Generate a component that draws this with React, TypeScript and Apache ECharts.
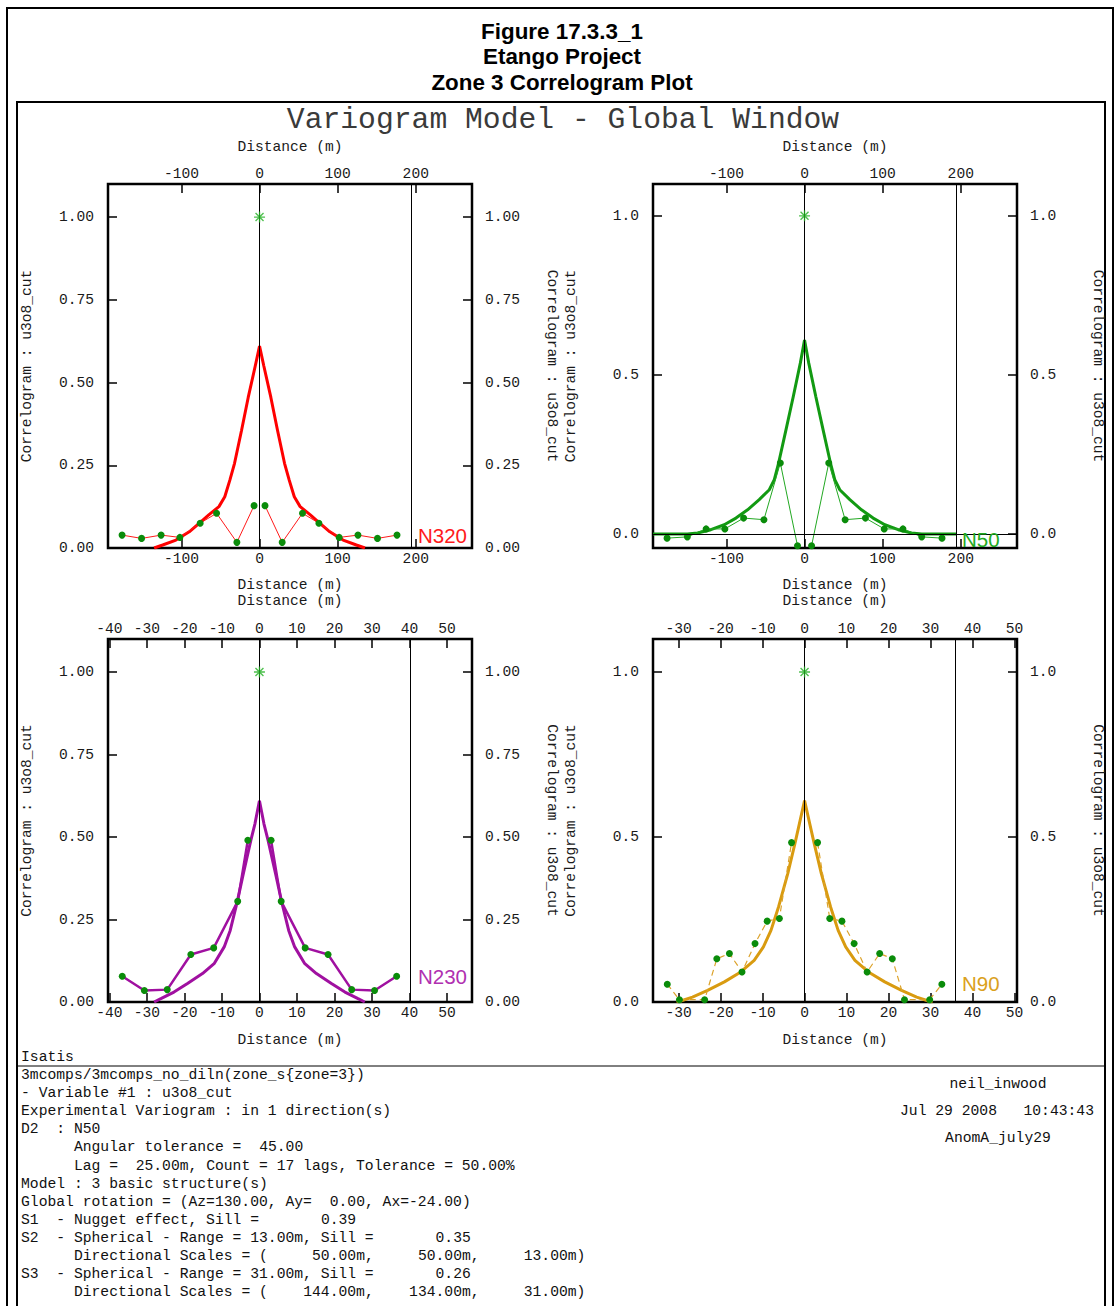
import React, { useEffect, useRef } from "react";
import * as echarts from "echarts";

// ---------------- DATA ----------------
// Experimental correlogram: lag distance (m) on the positive side; the plot is symmetric about 0
const n320ExpLag = [7, 29, 55, 76, 102, 126, 151, 176];
const n320ExpVal = [0.128, 0.017, 0.105, 0.075, 0.032, 0.039, 0.029, 0.039];
const n320ModelDist = [0, 5.5, 14.5, 23, 32, 38, 44.5, 52, 65, 77, 90, 107, 124, 135];
const n320ModelVal = [0.61, 0.55, 0.455, 0.356, 0.256, 0.205, 0.155, 0.125, 0.1, 0.075, 0.049, 0.024, 0.009, 0];

const n50ExpLag = [9, 31, 52, 78, 102, 126, 150, 176];
const n50ExpVal = [-0.037, 0.223, 0.045, 0.05, 0.016, 0.016, -0.009, -0.013];
const n50ModelDist = [0, 5.4, 14.4, 23.7, 33.2, 38.7, 45.1, 58, 72.9, 87.8, 102.8, 119.9, 137, 150, 194];
const n50ModelVal = [0.61, 0.537, 0.432, 0.328, 0.223, 0.171, 0.139, 0.108, 0.076, 0.05, 0.029, 0.0135, 0.003, 0, 0];

const n230ExpLag = [3.1, 5.8, 12.2, 18.3, 24.6, 30.7, 36.6];
const n230ExpVal = [0.49, 0.305, 0.164, 0.144, 0.0375, 0.035, 0.078];
const n230ModelDist = [0, 1.2, 2.3, 4.3, 5.9, 7.8, 9.4, 12.1, 15.2, 19.2, 22.8, 26.3, 28.1];
const n230ModelVal = [0.61, 0.54, 0.49, 0.389, 0.305, 0.217, 0.167, 0.116, 0.086, 0.056, 0.03, 0.01, 0];

const n90ExpLag = [3.1, 6, 8.9, 11.8, 14.9, 17.9, 20.9, 23.8, 29.8, 32.7];
const n90ExpVal = [0.483, 0.253, 0.245, 0.177, 0.091, 0.147, 0.131, 0.007, 0.007, 0.054];
const n90ModelDist = [0, 1.24, 2.3, 4, 6.2, 8, 9.8, 12, 15.2, 19.1, 23.1, 26.7, 29.5, 30.5];
const n90ModelVal = [0.61, 0.54, 0.48, 0.389, 0.288, 0.217, 0.167, 0.126, 0.091, 0.061, 0.035, 0.015, 0.003, 0];

const starPoint = [0, 1.0];

const directionNames = ["N320", "N50", "N230", "N90"];

// tick labels
const xTicksWide = [-100, 0, 100, 200];
const xTicksN230 = [-40, -30, -20, -10, 0, 10, 20, 30, 40, 50];
const xTicksN90 = [-30, -20, -10, 0, 10, 20, 30, 40, 50];
const yTicksFine = [0, 0.25, 0.5, 0.75, 1];
const yTicksCoarse = [0, 0.5, 1];

const figureTitle = ["Figure 17.3.3_1", "Etango Project", "Zone 3 Correlogram Plot"];
const plotTitle = "Variogram Model - Global Window";
const xName = "Distance (m)";
const yName = "Correlogram : u3o8_cut";

const infoLines = [
  "3mcomps/3mcomps_no_diln(zone_s{zone=3})",
  "- Variable #1 : u3o8_cut",
  "Experimental Variogram : in 1 direction(s)",
  "D2  : N50",
  "      Angular tolerance =  45.00",
  "      Lag =  25.00m, Count = 17 lags, Tolerance = 50.00%",
  "Model : 3 basic structure(s)",
  "Global rotation = (Az=130.00, Ay=  0.00, Ax=-24.00)",
  "S1  - Nugget effect, Sill =       0.39",
  "S2  - Spherical - Range = 13.00m, Sill =       0.35",
  "      Directional Scales = (     50.00m,     50.00m,     13.00m)",
  "S3  - Spherical - Range = 31.00m, Sill =       0.26",
  "      Directional Scales = (    144.00m,    134.00m,     31.00m)",
];
const stampLines = ["neil_inwood", "Jul 29 2008   10:43:43", "AnomA_july29"];

// ---------------- LAYOUT / STYLE ----------------
const MONO = '"Liberation Mono", "Courier New", monospace';
const SANS = '"Liberation Sans", Arial, sans-serif';
const MONO_SIZE = 14.6;

const panels = [
  {
    exp: [n320ExpLag, n320ExpVal], model: [n320ModelDist, n320ModelVal],
    left: 108, top: 184, width: 364, height: 364,
    xMin: -194, xMax: 272, vline: 194, yMin: 0, yMax: 1.1, hline: false, yDec: 2,
    xTicks: xTicksWide, yTicks: yTicksFine,
    gaps: { top: 30, bottom: 29, left: 74, right: 72 },
    modelColor: "#FF0000", expColor: "#FF1A1A", expWidth: 1, expType: "solid" as any,
    tagColor: "#FF1A1A", tag: [418, 535],
  },
  {
    exp: [n50ExpLag, n50ExpVal], model: [n50ModelDist, n50ModelVal],
    left: 653, top: 184, width: 364, height: 364,
    xMin: -194, xMax: 272, vline: 194, yMin: -0.044, yMax: 1.1, hline: true, yDec: 1,
    xTicks: xTicksWide, yTicks: yTicksCoarse,
    gaps: { top: 30, bottom: 29, left: 75, right: 73 },
    modelColor: "#129A12", expColor: "#22A822", expWidth: 1, expType: "solid" as any,
    tagColor: "#22AA22", tag: [962, 539],
  },
  {
    exp: [n230ExpLag, n230ExpVal], model: [n230ModelDist, n230ModelVal],
    left: 108, top: 639, width: 364, height: 363,
    xMin: -40.4, xMax: 56.7, vline: 40.3, yMin: 0, yMax: 1.1, hline: false, yDec: 2,
    xTicks: xTicksN230, yTicks: yTicksFine,
    gaps: { top: 31, bottom: 30, left: 74, right: 72 },
    modelColor: "#A010A0", expColor: "#A010A0", expWidth: 2.5, expType: "solid" as any,
    tagColor: "#B030B0", tag: [418, 976],
  },
  {
    exp: [n90ExpLag, n90ExpVal], model: [n90ModelDist, n90ModelVal],
    left: 653, top: 639, width: 364, height: 363,
    xMin: -36.1, xMax: 50.6, vline: 36, yMin: 0, yMax: 1.1, hline: false, yDec: 1,
    xTicks: xTicksN90, yTicks: yTicksCoarse,
    gaps: { top: 31, bottom: 30, left: 75, right: 73 },
    modelColor: "#D99B10", expColor: "#DCA22A", expWidth: 1.2, expType: [6, 4] as any,
    tagColor: "#DAA020", tag: [962, 983],
  },
];

const DOT_COLOR = "#0A8C0A";
const STAR_COLOR = "#22B022";
const ASTERISK =
  "path://M9,2L11,2L11,18L9,18Z M2,9L18,9L18,11L2,11Z M3.5,4.9L4.9,3.5L16.5,15.1L15.1,16.5Z M15.1,3.5L16.5,4.9L4.9,16.5L3.5,15.1Z";

// mirror helpers (the correlogram is drawn at +h and -h)
function mirroredCurve(dist: number[], val: number[]) {
  const out: number[][] = [];
  for (let i = dist.length - 1; i >= 0; i--) if (dist[i] !== 0) out.push([-dist[i], val[i]]);
  for (let i = 0; i < dist.length; i++) out.push([dist[i], val[i]]);
  return out;
}
function leftSide(dist: number[], val: number[]) {
  const out: number[][] = [];
  for (let i = dist.length - 1; i >= 0; i--) out.push([-dist[i], val[i]]);
  return out;
}
function rightSide(dist: number[], val: number[]) {
  return dist.map((d, i) => [d, val[i]]);
}

function monoTokens(line: string, x0: number, y: number, size: number) {
  const els: any[] = [];
  const re = /\S+(?: \S+)*/g;
  let m: RegExpExecArray | null;
  while ((m = re.exec(line))) {
    els.push({
      type: "text", x: x0 + m.index * size * 0.6, y, silent: true,
      style: { text: m[0], fill: "#111", fontSize: size, fontFamily: MONO, align: "left", verticalAlign: "middle" },
    });
  }
  return els;
}

function buildOption() {
  const grid: any[] = [];
  const xAxis: any[] = [];
  const yAxis: any[] = [];
  const series: any[] = [];

  const labelStyle = { fontFamily: MONO, fontSize: MONO_SIZE, color: "#1a1a1a" };
  const nameStyle = { fontFamily: MONO, fontSize: MONO_SIZE, color: "#1a1a1a" };
  const tickStyle = { color: "#000", width: 1.5 };

  panels.forEach((p, i) => {
    grid.push({
      left: p.left, top: p.top, width: p.width, height: p.height,
      show: true, borderColor: "#000", borderWidth: 2.5, backgroundColor: "rgba(0,0,0,0)",
      containLabel: false, outerBoundsMode: "none",
    });
    (["bottom", "top"] as const).forEach((pos) => {
      xAxis.push({
        gridIndex: i, type: "value", position: pos, min: p.xMin, max: p.xMax,
        axisLine: { show: false, onZero: false },
        splitLine: { show: false },
        axisTick: { show: true, inside: true, length: 9, lineStyle: tickStyle, customValues: p.xTicks },
        axisLabel: {
          show: true, customValues: p.xTicks, margin: 3, ...labelStyle,
          formatter: (v: number) => String(Math.round(v)),
        },
        name: xName, nameLocation: "middle", nameGap: pos === "top" ? p.gaps.top : p.gaps.bottom,
        nameTextStyle: nameStyle, nameMoveOverlap: false,
      });
    });
    (["left", "right"] as const).forEach((pos) => {
      yAxis.push({
        gridIndex: i, type: "value", position: pos, min: p.yMin, max: p.yMax,
        axisLine: { show: false, onZero: false },
        splitLine: { show: false },
        axisTick: { show: true, inside: true, length: 9, lineStyle: tickStyle, customValues: p.yTicks },
        axisLabel: {
          show: true, customValues: p.yTicks, margin: pos === "left" ? 14 : 13, ...labelStyle,
          formatter: (v: number) => v.toFixed(p.yDec),
        },
        name: yName, nameLocation: "middle", nameGap: pos === "left" ? p.gaps.left : p.gaps.right,
        nameRotate: pos === "left" ? 90 : -90,
        nameTextStyle: nameStyle, nameMoveOverlap: false,
      });
    });

    const xi = 2 * i;
    const yi = 2 * i;
    const markData: any[] = [{ xAxis: 0 }, { xAxis: p.vline }];
    if (p.hline) markData.push({ yAxis: 0 });

    series.push({
      type: "line", xAxisIndex: xi, yAxisIndex: yi, silent: true,
      data: mirroredCurve(p.model[0], p.model[1]),
      symbol: "none", showSymbol: false,
      lineStyle: { color: p.modelColor, width: 3 }, z: 3,
      markLine: {
        silent: true, symbol: "none", label: { show: false },
        lineStyle: { color: "#000", width: 1, type: "solid" },
        data: markData, animation: false,
      },
    });
    [leftSide(p.exp[0], p.exp[1]), rightSide(p.exp[0], p.exp[1])].forEach((d) => {
      series.push({
        type: "line", xAxisIndex: xi, yAxisIndex: yi, silent: true, data: d,
        symbol: "circle", symbolSize: 7, showSymbol: true, showAllSymbol: true,
        itemStyle: { color: DOT_COLOR, borderWidth: 0 },
        lineStyle: { color: p.expColor, width: p.expWidth, type: p.expType },
        z: 4,
      });
    });
    series.push({
      type: "scatter", xAxisIndex: xi, yAxisIndex: yi, silent: true,
      data: [starPoint], symbol: ASTERISK, symbolSize: 11,
      itemStyle: { color: STAR_COLOR }, z: 5,
    });
  });

  const graphic: any[] = [];
  // outer border and inner frame
  graphic.push({
    type: "rect", silent: true, shape: { x: 7, y: 8, width: 1106, height: 1320 },
    style: { fill: "none", stroke: "#000", lineWidth: 2 },
  });
  graphic.push({
    type: "rect", silent: true, shape: { x: 17, y: 102, width: 1088, height: 1230 },
    style: { fill: "none", stroke: "#000", lineWidth: 2 },
  });
  graphic.push({
    type: "line", silent: true, shape: { x1: 17, y1: 1066, x2: 1105, y2: 1066 },
    style: { stroke: "#000", lineWidth: 1 },
  });
  figureTitle.forEach((t, k) => {
    graphic.push({
      type: "text", x: 562, y: 31 + k * 25.5, silent: true,
      style: { text: t, fill: "#000", fontSize: 22.4, fontWeight: "bold", fontFamily: SANS, align: "center", verticalAlign: "middle" },
    });
  });
  graphic.push({
    type: "text", x: 563, y: 120, silent: true,
    style: { text: plotTitle, fill: "#3a3a3a", fontSize: 29.7, fontFamily: MONO, align: "center", verticalAlign: "middle" },
  });
  panels.forEach((p, i) => {
    graphic.push({
      type: "text", x: p.tag[0], y: p.tag[1], silent: true, z: 10,
      style: { text: directionNames[i], fill: p.tagColor, fontSize: 20.5, fontFamily: SANS, align: "left", verticalAlign: "middle" },
    });
  });
  graphic.push(...monoTokens("Isatis", 21, 1057, 14.7));
  infoLines.forEach((line, k) => {
    graphic.push(...monoTokens(line, 21, 1075 + k * 18.1, 14.7));
  });
  graphic.push({
    type: "text", x: 998, y: 1084, silent: true,
    style: { text: stampLines[0], fill: "#111", fontSize: 14.7, fontFamily: MONO, align: "center", verticalAlign: "middle" },
  });
  graphic.push(...monoTokens(stampLines[1], 900, 1111, 14.7));
  graphic.push({
    type: "text", x: 998, y: 1138, silent: true,
    style: { text: stampLines[2], fill: "#111", fontSize: 14.7, fontFamily: MONO, align: "center", verticalAlign: "middle" },
  });

  return {
    animation: false,
    backgroundColor: "#ffffff",
    grid, xAxis, yAxis, series, graphic,
  };
}

export default function App() {
  const ref = useRef<HTMLDivElement>(null);
  useEffect(() => {
    if (!ref.current) return;
    const chart = echarts.init(ref.current, null, { renderer: "svg" });
    chart.setOption(buildOption() as any);
    return () => chart.dispose();
  }, []);
  return (
    <div
      ref={ref}
      style={{ position: "absolute", left: 0, top: 0, width: 1115, height: 1306, background: "#fff" }}
    />
  );
}
